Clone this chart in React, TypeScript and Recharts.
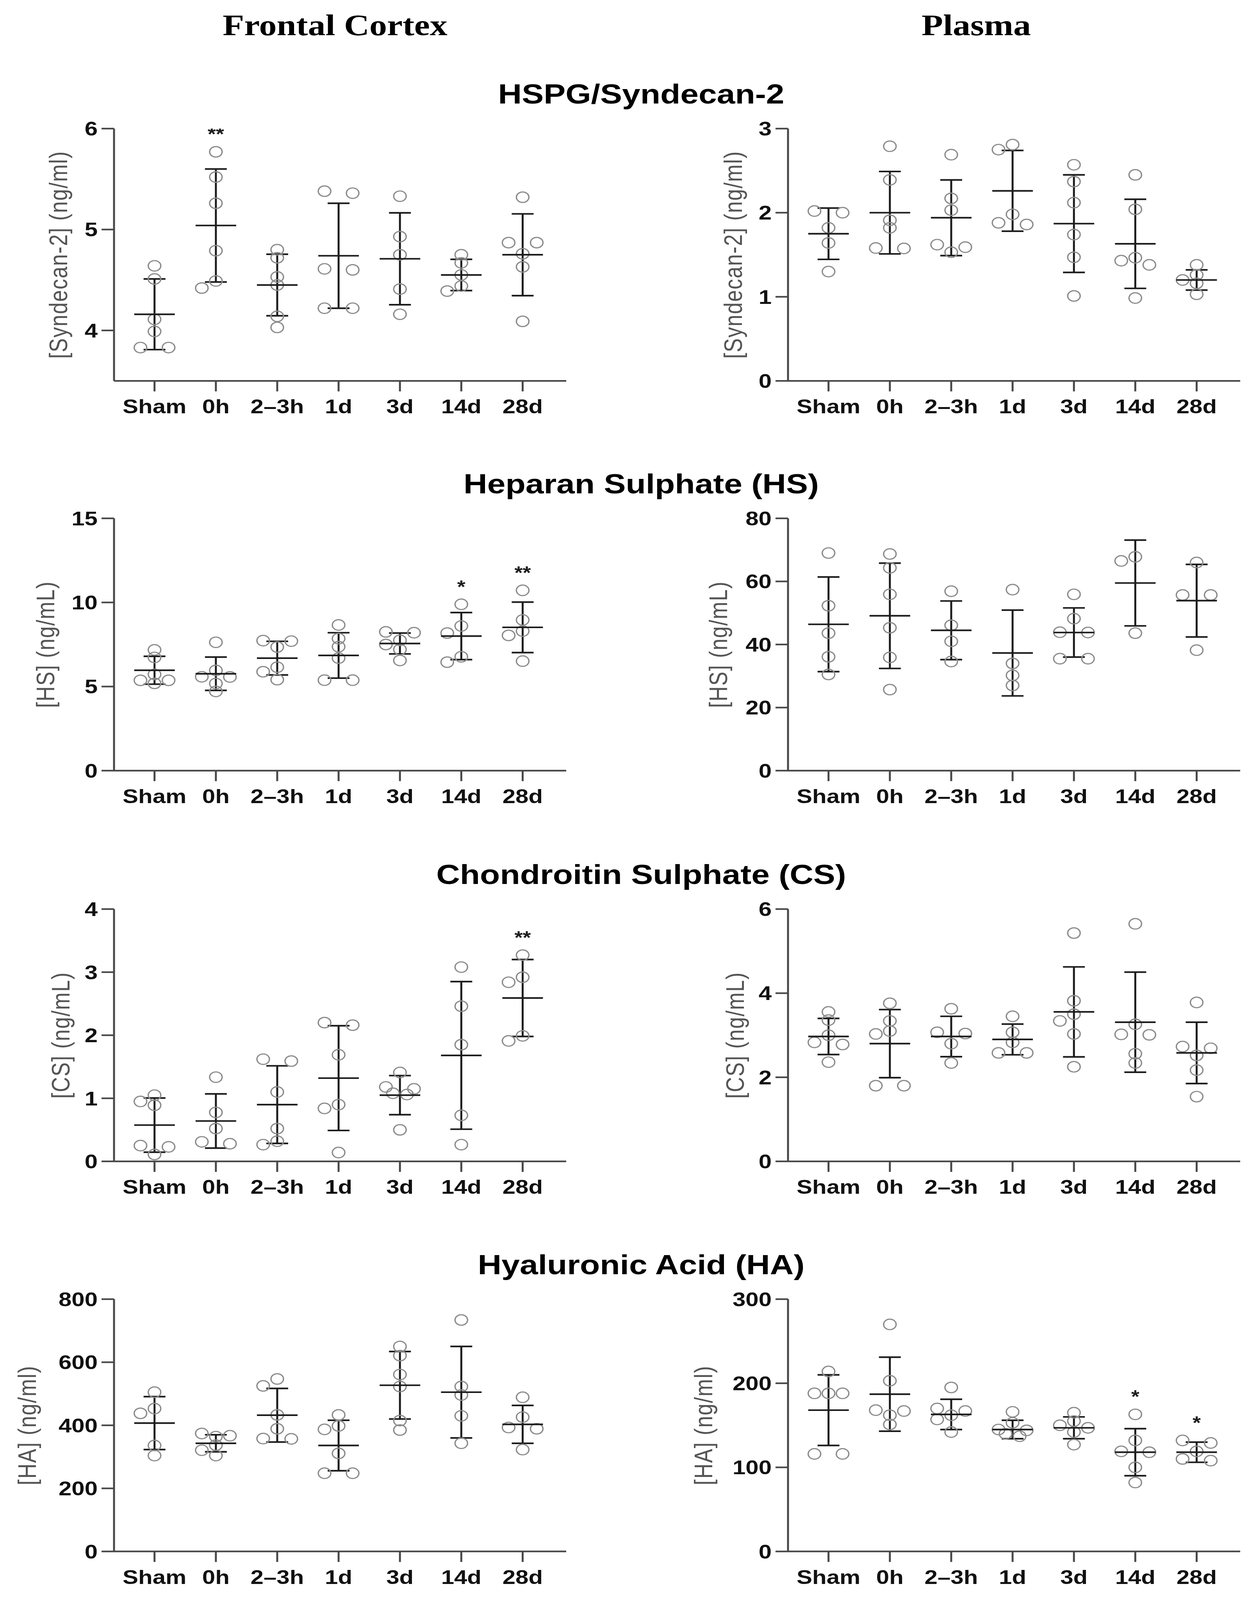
import React from 'react';
import { ScatterChart, Scatter, XAxis, YAxis, ErrorBar } from 'recharts';

// ---------- categories ----------
const categories = ['Sham', '0h', '2–3h', '1d', '3d', '14d', '28d'];

// ---------- Frontal cortex: HSPG/Syndecan-2 ----------
const fcSynPoints = [
  [4.64, 4.51, 4.11, 3.99, 3.83, 3.83],
  [5.77, 5.52, 5.26, 4.79, 4.49, 4.42],
  [4.8, 4.72, 4.53, 4.45, 4.14, 4.03],
  [5.38, 5.36, 4.61, 4.6, 4.22, 4.22],
  [5.33, 4.93, 4.75, 4.41, 4.16],
  [4.75, 4.67, 4.55, 4.44, 4.39],
  [5.32, 4.87, 4.87, 4.76, 4.63, 4.09],
];
const fcSynMean = [4.16, 5.04, 4.45, 4.74, 4.71, 4.55, 4.75];
const fcSynSd = [0.35, 0.56, 0.305, 0.52, 0.455, 0.155, 0.405];
const fcSynSig = [{ group: 1, text: '**' }];

// ---------- Plasma: HSPG/Syndecan-2 ----------
const plSynPoints = [
  [2.02, 2.0, 1.82, 1.64, 1.3],
  [2.79, 2.39, 1.91, 1.82, 1.58, 1.575],
  [2.69, 2.17, 2.03, 1.62, 1.59, 1.53],
  [2.81, 2.75, 1.98, 1.88, 1.86],
  [2.57, 2.37, 2.12, 1.74, 1.47, 1.01],
  [2.45, 2.04, 1.465, 1.43, 1.38, 0.985],
  [1.38, 1.26, 1.2, 1.16, 1.03],
];
const plSynMean = [1.75, 2.0, 1.94, 2.26, 1.87, 1.63, 1.2];
const plSynSd = [0.305, 0.49, 0.45, 0.48, 0.58, 0.53, 0.12];
const plSynSig: { group: number; text: string }[] = [];

// ---------- Frontal cortex: Heparan sulphate ----------
const fcHsPoints = [
  [7.18, 6.73, 5.72, 5.37, 5.37, 5.19],
  [7.63, 5.96, 5.58, 5.57, 5.18, 4.71],
  [7.73, 7.7, 7.35, 6.15, 5.88, 5.41],
  [8.66, 7.85, 7.37, 6.69, 5.38, 5.38],
  [8.25, 8.2, 7.75, 7.5, 7.2, 6.55],
  [9.89, 8.6, 8.18, 6.77, 6.45],
  [10.72, 8.96, 8.3, 8.04, 6.51],
];
const fcHsMean = [5.97, 5.76, 6.69, 6.85, 7.56, 8.0, 8.52];
const fcHsSd = [0.83, 0.99, 1.0, 1.35, 0.62, 1.4, 1.5];
const fcHsSig = [
  { group: 5, text: '*' },
  { group: 6, text: '**' },
];

// ---------- Plasma: Heparan sulphate ----------
const plHsPoints = [
  [69.0, 52.3, 43.6, 36.1, 30.5],
  [68.7, 64.3, 55.9, 45.3, 35.9, 25.7],
  [56.9, 46.1, 41.0, 34.6],
  [57.4, 34.0, 30.2, 27.0],
  [55.9, 48.2, 43.9, 43.8, 35.5, 35.5],
  [67.8, 66.5, 43.6],
  [66.0, 55.7, 55.7, 38.2],
];
const plHsMean = [46.4, 49.1, 44.5, 37.3, 43.8, 59.5, 53.9];
const plHsSd = [15.0, 16.7, 9.3, 13.6, 7.8, 13.6, 11.5];
const plHsSig: { group: number; text: string }[] = [];

// ---------- Frontal cortex: Chondroitin sulphate ----------
const fcCsPoints = [
  [1.05, 0.95, 0.89, 0.25, 0.23, 0.11],
  [1.335, 0.776, 0.52, 0.31, 0.28],
  [1.62, 1.59, 1.1, 0.52, 0.32, 0.265],
  [2.2, 2.16, 1.69, 0.9, 0.84, 0.14],
  [1.41, 1.18, 1.15, 1.08, 1.06, 0.5],
  [3.08, 2.46, 1.85, 0.73, 0.265],
  [3.27, 2.92, 2.84, 1.99, 1.91],
];
const fcCsMean = [0.575, 0.64, 0.9, 1.32, 1.05, 1.68, 2.59];
const fcCsSd = [0.43, 0.43, 0.615, 0.83, 0.31, 1.17, 0.61];
const fcCsSig = [{ group: 6, text: '**' }];

// ---------- Plasma: Chondroitin sulphate ----------
const plCsPoints = [
  [3.555, 3.36, 3.0, 2.83, 2.78, 2.36],
  [3.76, 3.34, 3.1, 3.03, 1.8, 1.8],
  [3.63, 3.07, 3.04, 2.8, 2.34],
  [3.45, 3.07, 2.83, 2.58, 2.58],
  [5.43, 3.82, 3.5, 3.34, 3.03, 2.25],
  [5.65, 3.26, 3.02, 3.01, 2.56, 2.34],
  [3.78, 2.73, 2.69, 2.52, 2.17, 1.54],
];
const plCsMean = [2.97, 2.8, 2.97, 2.9, 3.555, 3.31, 2.58];
const plCsSd = [0.43, 0.81, 0.48, 0.365, 1.07, 1.19, 0.73];
const plCsSig: { group: number; text: string }[] = [];

// ---------- Frontal cortex: Hyaluronic acid ----------
const fcHaPoints = [
  [505, 453, 438, 336, 304],
  [374, 367, 364, 337, 321, 304],
  [547, 525, 433, 389, 358, 357],
  [433, 398, 387, 311, 248, 248],
  [650, 621, 561, 523, 415, 385],
  [734, 523, 496, 430, 343],
  [489, 426, 393, 389, 323],
];
const fcHaMean = [407, 343, 432, 336, 527, 505, 403];
const fcHaSd = [84, 27, 85, 80, 107, 145, 60];
const fcHaSig: { group: number; text: string }[] = [];

// ---------- Plasma: Hyaluronic acid ----------
const plHaPoints = [
  [214, 188, 188, 188, 116, 116],
  [270, 203, 168, 167, 162, 151],
  [195, 170, 167, 162, 157, 142],
  [166, 153, 145, 144, 140, 137],
  [165, 155, 150, 147, 142, 127],
  [163, 132, 119, 118, 100, 82],
  [132, 129, 119, 110, 108],
];
const plHaMean = [168, 187, 163, 145, 147, 118, 118];
const plHaSd = [42, 44, 18, 11, 13, 28, 12];
const plHaSig = [
  { group: 5, text: '*' },
  { group: 6, text: '*' },
];

// ---------- layout / style ----------
const SANS = "'Liberation Sans', Arial, Helvetica, sans-serif";
const SERIF = "'Liberation Serif', 'Times New Roman', Times, serif";
const PAGE_W = 3219;
const PAGE_H = 4877;
const PLOT_W = 1158;
const PLOT_H = 769;
const X_DOMAIN: [number, number] = [-0.66, 6.71];
const M_LEFT = 80;
const Y_W = 200;
const M_TOP = 130;
const X_H = 120;
const M_BOTTOM = 20;
const M_RIGHT = 40;
const AXIS = '#484848';
const DOT = '#8c8c8c';
const INK = '#1c1c1c';

type Sig = { group: number; text: string };
type PanelCfg = {
  left: number;
  top: number;
  domain: [number, number];
  ticks: number[];
  label: string;
  labelOffset: number;
  points: number[][];
  means: number[];
  sds: number[];
  sig: Sig[];
};

// simple beeswarm: near-identical values are spread symmetrically, others placed greedily
function swarmOffsets(vals: number[], pxY: number): number[] {
  const S = 36;
  const MIN_D = 22;
  const TIE = 8;
  const idx = vals.map((_, i) => i).sort((a, b) => vals[b] - vals[a]);
  const groups: number[][] = [];
  for (const i of idx) {
    const g = groups[groups.length - 1];
    if (g && (vals[g[0]] - vals[i]) * pxY < TIE) g.push(i);
    else groups.push([i]);
  }
  const placed: { x: number; y: number }[] = [];
  const off = new Array(vals.length).fill(0);
  for (const g of groups) {
    let patterns: number[][];
    if (g.length === 1) patterns = [[0], [-S], [S], [-S / 2], [S / 2], [-1.5 * S], [1.5 * S], [-2 * S], [2 * S]];
    else if (g.length === 2)
      patterns = [[-S, S], [-S / 2, S / 2], [-1.5 * S, 1.5 * S], [-2 * S, 0], [0, 2 * S]];
    else patterns = [g.map((_, k) => (k - (g.length - 1) / 2) * S)];
    let chosen = patterns[0];
    for (const p of patterns) {
      const ok = p.every((x, k) =>
        placed.every((q) => Math.hypot(q.x - x, q.y - vals[g[k]] * pxY) >= MIN_D)
      );
      if (ok) {
        chosen = p;
        break;
      }
    }
    chosen.forEach((x, k) => {
      off[g[k]] = x;
      placed.push({ x, y: vals[g[k]] * pxY });
    });
  }
  return off;
}

const CircleShape = (props: any) => {
  const { cx, cy } = props;
  if (cx == null || cy == null) return null;
  return <circle cx={cx} cy={cy} r={16} fill="none" stroke={DOT} strokeWidth={3.5} />;
};

const MeanShape = (props: any) => {
  const { cx, cy } = props;
  if (cx == null || cy == null) return null;
  return <line x1={cx - 52} x2={cx + 52} y1={cy} y2={cy} stroke={INK} strokeWidth={5} />;
};

const SigShape = (props: any) => {
  const { cx, cy } = props;
  if (cx == null || cy == null) return null;
  const text = props.payload?.text ?? props.text;
  return (
    <text x={cx} y={cy + 30} textAnchor="middle" fontSize={54} fontWeight={700} fontFamily={SANS} fill={INK}>
      {text}
    </text>
  );
};

function Panel({ cfg }: { cfg: PanelCfg }) {
  const pxPerY = PLOT_H / (cfg.domain[1] - cfg.domain[0]);
  const pxPerX = PLOT_W / (X_DOMAIN[1] - X_DOMAIN[0]);
  const pts: { x: number; y: number }[] = [];
  cfg.points.forEach((vals, g) => {
    const offs = swarmOffsets(vals, pxPerY);
    vals.forEach((v, i) => pts.push({ x: g + offs[i] / pxPerX, y: v }));
  });
  const means = cfg.means.map((m, g) => ({ x: g, y: m, sd: cfg.sds[g] }));
  const sig = cfg.sig.map((s) => ({
    x: s.group,
    y: Math.max(...cfg.points[s.group]) + 65 / pxPerY,
    text: s.text,
  }));
  const tickStyle = { fill: '#111', fontSize: 60, fontWeight: 700, fontFamily: SANS };
  return (
    <div style={{ position: 'absolute', left: cfg.left - M_LEFT - Y_W, top: cfg.top - M_TOP }}>
      <ScatterChart
        width={M_LEFT + Y_W + PLOT_W + M_RIGHT}
        height={M_TOP + PLOT_H + X_H + M_BOTTOM}
        margin={{ top: M_TOP, left: M_LEFT, right: M_RIGHT, bottom: M_BOTTOM }}
      >
        <XAxis
          type="number"
          dataKey="x"
          domain={X_DOMAIN}
          ticks={[0, 1, 2, 3, 4, 5, 6]}
          tickFormatter={(v: number) => categories[Math.round(v)] ?? ''}
          allowDataOverflow
          interval={0}
          height={X_H}
          axisLine={{ stroke: AXIS, strokeWidth: 5 }}
          tickLine={{ stroke: AXIS, strokeWidth: 5 }}
          tickSize={32}
          tickMargin={24}
          tick={tickStyle}
        />
        <YAxis
          type="number"
          dataKey="y"
          domain={cfg.domain}
          ticks={cfg.ticks}
          allowDataOverflow
          interval={0}
          width={Y_W}
          axisLine={{ stroke: AXIS, strokeWidth: 5 }}
          tickLine={{ stroke: AXIS, strokeWidth: 5 }}
          tickSize={32}
          tickMargin={10}
          tick={tickStyle}
        />
        <Scatter data={pts} shape={CircleShape} isAnimationActive={false} />
        <Scatter data={means} shape={MeanShape} isAnimationActive={false}>
          <ErrorBar dataKey="sd" direction="y" width={28} stroke={INK} strokeWidth={5} isAnimationActive={false} />
        </Scatter>
        <Scatter data={sig} shape={SigShape} isAnimationActive={false} />
      </ScatterChart>
    </div>
  );
}

const LEFT_X = 292;
const RIGHT_X = 2018;
const ROW_TOPS = [392, 1580, 2771, 3960];

const panels: PanelCfg[] = [
  { left: LEFT_X, top: ROW_TOPS[0], domain: [3.5, 6], ticks: [4, 5, 6], label: '[Syndecan-2] (ng/ml)', labelOffset: -142, points: fcSynPoints, means: fcSynMean, sds: fcSynSd, sig: fcSynSig },
  { left: RIGHT_X, top: ROW_TOPS[0], domain: [0, 3], ticks: [0, 1, 2, 3], label: '[Syndecan-2] (ng/ml)', labelOffset: -140, points: plSynPoints, means: plSynMean, sds: plSynSd, sig: plSynSig },
  { left: LEFT_X, top: ROW_TOPS[1], domain: [0, 15], ticks: [0, 5, 10, 15], label: '[HS] (ng/mL)', labelOffset: -175, points: fcHsPoints, means: fcHsMean, sds: fcHsSd, sig: fcHsSig },
  { left: RIGHT_X, top: ROW_TOPS[1], domain: [0, 80], ticks: [0, 20, 40, 60, 80], label: '[HS] (ng/mL)', labelOffset: -178, points: plHsPoints, means: plHsMean, sds: plHsSd, sig: plHsSig },
  { left: LEFT_X, top: ROW_TOPS[2], domain: [0, 4], ticks: [0, 1, 2, 3, 4], label: '[CS] (ng/mL)', labelOffset: -136, points: fcCsPoints, means: fcCsMean, sds: fcCsSd, sig: fcCsSig },
  { left: RIGHT_X, top: ROW_TOPS[2], domain: [0, 6], ticks: [0, 2, 4, 6], label: '[CS] (ng/mL)', labelOffset: -135, points: plCsPoints, means: plCsMean, sds: plCsSd, sig: plCsSig },
  { left: LEFT_X, top: ROW_TOPS[3], domain: [0, 800], ticks: [0, 200, 400, 600, 800], label: '[HA] (ng/ml)', labelOffset: -222, points: fcHaPoints, means: fcHaMean, sds: fcHaSd, sig: fcHaSig },
  { left: RIGHT_X, top: ROW_TOPS[3], domain: [0, 300], ticks: [0, 100, 200, 300], label: '[HA] (ng/ml)', labelOffset: -216, points: plHaPoints, means: plHaMean, sds: plHaSd, sig: plHaSig },
];

const columnTitles = ['Frontal Cortex', 'Plasma'];
const sectionTitles = ['HSPG/Syndecan-2', 'Heparan Sulphate (HS)', 'Chondroitin Sulphate (CS)', 'Hyaluronic Acid (HA)'];

export default function App() {
  const colCenters = [858, 2500];
  // The browser viewport may be shorter than the figure; fit the figure's height into it.
  const vh = typeof window !== 'undefined' && window.innerHeight ? window.innerHeight : PAGE_H;
  const sy = Math.min(1, vh / PAGE_H);
  return (
    <div
      style={{
        position: 'relative',
        width: PAGE_W,
        height: Math.floor(PAGE_H * sy) - 8,
        margin: '-8px 0 0 -8px',
        background: '#fff',
        overflow: 'hidden',
      }}
    >
      <div
        style={{
          position: 'absolute',
          left: 0,
          top: 0,
          width: PAGE_W,
          height: PAGE_H,
          background: '#fff',
          transform: `scale(1, ${sy})`,
          transformOrigin: '0 0',
        }}
      >
        <svg width={PAGE_W} height={PAGE_H} style={{ position: 'absolute', left: 0, top: 0 }}>
          {columnTitles.map((t, i) => (
            <text key={t} x={colCenters[i]} y={107} textAnchor="middle" fontFamily={SERIF} fontWeight={700} fontSize={90} fill="#000">
              {t}
            </text>
          ))}
          {sectionTitles.map((t, i) => (
            <text key={t} x={1642} y={ROW_TOPS[i] - 76} textAnchor="middle" fontFamily={SANS} fontWeight={700} fontSize={84} fill="#000">
              {t}
            </text>
          ))}
          {panels.map((p, i) => {
            const x = p.left + p.labelOffset;
            const y = p.top + PLOT_H / 2;
            return (
              <text
                key={i}
                x={x}
                y={y}
                transform={`rotate(-90 ${x} ${y})`}
                textAnchor="middle"
                dominantBaseline="central"
                fontFamily={SANS}
                fontSize={64}
                letterSpacing={2}
                fill="#555"
              >
                {p.label}
              </text>
            );
          })}
        </svg>
        {panels.map((p, i) => (
          <Panel key={i} cfg={p} />
        ))}
      </div>
    </div>
  );
}
